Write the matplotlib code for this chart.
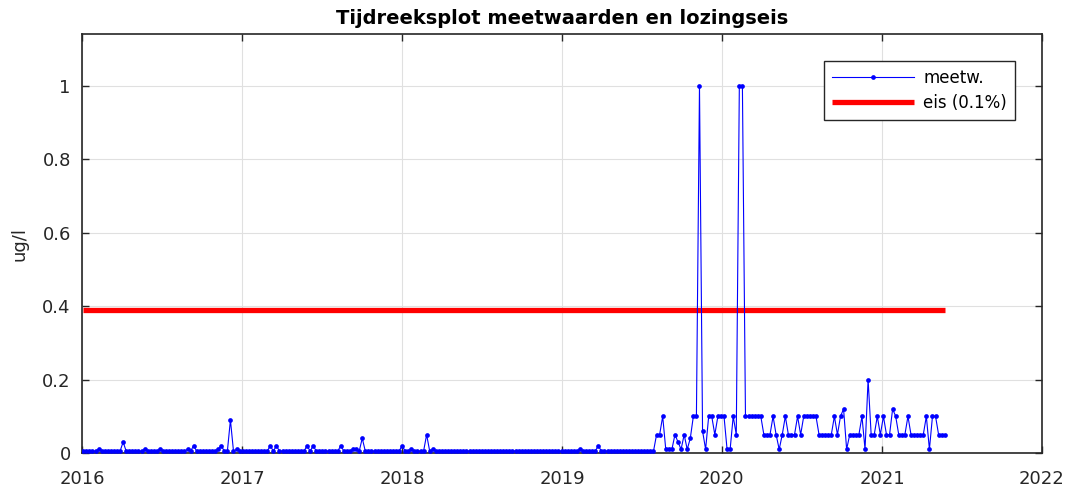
import matplotlib
matplotlib.use("Agg")
import matplotlib.pyplot as plt
import matplotlib.dates as mdates
import pandas as pd

# weekly samples starting first Monday of 2016
START_DATE = "2016-01-04"
N_SAMPLES = 282

# meetwaarden (ug/l), one per week
meetw = [
    0.005, 0.005, 0.005, 0.005, 0.005, 0.01, 0.005, 0.005, 0.005, 0.005,
    0.005, 0.005, 0.005, 0.03, 0.005, 0.005, 0.005, 0.005, 0.005, 0.005,
    0.01, 0.005, 0.005, 0.005, 0.005, 0.01, 0.005, 0.005, 0.005, 0.005,
    0.005, 0.005, 0.005, 0.005, 0.01, 0.005, 0.02, 0.005, 0.005, 0.005,
    0.005, 0.005, 0.005, 0.005, 0.01, 0.02, 0.005, 0.005, 0.09, 0.005,
    0.01, 0.005, 0.005, 0.005, 0.005, 0.005, 0.005, 0.005, 0.005, 0.005,
    0.005, 0.02, 0.005, 0.02, 0.005, 0.005, 0.005, 0.005, 0.005, 0.005,
    0.005, 0.005, 0.005, 0.02, 0.005, 0.02, 0.005, 0.005, 0.005, 0.005,
    0.005, 0.005, 0.005, 0.005, 0.02, 0.005, 0.005, 0.005, 0.01, 0.01,
    0.005, 0.04, 0.005, 0.005, 0.005, 0.005, 0.005, 0.005, 0.005, 0.005,
    0.005, 0.005, 0.005, 0.005, 0.02, 0.005, 0.005, 0.01, 0.005, 0.005,
    0.005, 0.005, 0.05, 0.005, 0.01, 0.005, 0.005, 0.005, 0.005, 0.005,
    0.005, 0.005, 0.005, 0.005, 0.005, 0.005, 0.005, 0.005, 0.005, 0.005,
    0.005, 0.005, 0.005, 0.005, 0.005, 0.005, 0.005, 0.005, 0.005, 0.005,
    0.005, 0.005, 0.005, 0.005, 0.005, 0.005, 0.005, 0.005, 0.005, 0.005,
    0.005, 0.005, 0.005, 0.005, 0.005, 0.005, 0.005, 0.005, 0.005, 0.005,
    0.005, 0.005, 0.01, 0.005, 0.005, 0.005, 0.005, 0.005, 0.02, 0.005,
    0.005, 0.005, 0.005, 0.005, 0.005, 0.005, 0.005, 0.005, 0.005, 0.005,
    0.005, 0.005, 0.005, 0.005, 0.005, 0.005, 0.005, 0.05, 0.05, 0.1,
    0.01, 0.01, 0.01, 0.05, 0.03, 0.01, 0.05, 0.01, 0.04, 0.1,
    0.1, 1.0, 0.06, 0.01, 0.1, 0.1, 0.05, 0.1, 0.1, 0.1,
    0.01, 0.01, 0.1, 0.05, 1.0, 1.0, 0.1, 0.1, 0.1, 0.1,
    0.1, 0.1, 0.05, 0.05, 0.05, 0.1, 0.05, 0.01, 0.05, 0.1,
    0.05, 0.05, 0.05, 0.1, 0.05, 0.1, 0.1, 0.1, 0.1, 0.1,
    0.05, 0.05, 0.05, 0.05, 0.05, 0.1, 0.05, 0.1, 0.12, 0.01,
    0.05, 0.05, 0.05, 0.05, 0.1, 0.01, 0.2, 0.05, 0.05, 0.1,
    0.05, 0.1, 0.05, 0.05, 0.12, 0.1, 0.05, 0.05, 0.05, 0.1,
    0.05, 0.05, 0.05, 0.05, 0.05, 0.1, 0.01, 0.1, 0.1, 0.05,
    0.05, 0.05,
]
eis = 0.39  # lozingseis (0.1%)

YTICKS = [0, 0.2, 0.4, 0.6, 0.8, 1]
YTICK_LABELS = ["0", "0.2", "0.4", "0.6", "0.8", "1"]
XYEARS = [2016, 2017, 2018, 2019, 2020, 2021, 2022]

INK = "#262626"

dates = pd.date_range(START_DATE, periods=N_SAMPLES, freq="7D")

plt.rcParams["font.family"] = ["DejaVu Sans"]

fig = plt.figure(figsize=(10.70, 4.95), dpi=100)
ax = fig.add_axes([0.0766, 0.0848, 0.8972, 0.8465])

ax.plot(dates, meetw, color="#0000ff", lw=0.8, marker="o", ms=3.4,
        mec="none", label="meetw.", zorder=3)
ax.plot([dates[0], dates[-1]], [eis, eis], color="#ff0000", lw=3.8,
        solid_capstyle="butt", label="eis (0.1%)", zorder=2)

ax.set_xlim(pd.Timestamp("2016-01-01"), pd.Timestamp("2022-01-01"))
ax.set_ylim(0, 1.142)
ax.set_xticks([pd.Timestamp(f"{y}-01-01") for y in XYEARS])
ax.xaxis.set_major_formatter(mdates.DateFormatter("%Y"))
ax.set_yticks(YTICKS)
ax.set_yticklabels(YTICK_LABELS)

ax.grid(True, color="#e0e0e0", lw=0.8)
ax.set_axisbelow(True)
ax.tick_params(direction="in", length=5, width=1, top=True, right=True,
               labelsize=13, colors=INK, labelcolor=INK)
ax.tick_params(axis="x", pad=12)
ax.tick_params(axis="y", pad=8)
for s in ax.spines.values():
    s.set_color(INK)
    s.set_linewidth(1.2)

ax.set_ylabel("ug/l", fontsize=13, color=INK)
ax.yaxis.set_label_coords(-0.056, 0.5)
ax.set_title("Tijdreeksplot meetwaarden en lozingseis", fontsize=14,
             fontweight="bold", pad=7)

leg = ax.legend(loc="upper right", bbox_to_anchor=(0.972, 0.9356),
                borderaxespad=0, numpoints=1, fontsize=12, fancybox=False,
                framealpha=1, edgecolor=INK, handlelength=4.9,
                handletextpad=0.55, borderpad=0.5, labelspacing=0.4)
leg.get_frame().set_linewidth(1.0)

fig.savefig("out.png", dpi=100)
